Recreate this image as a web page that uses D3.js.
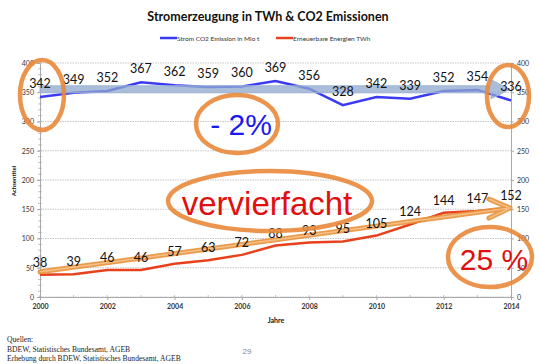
<!DOCTYPE html>
<html><head><meta charset="utf-8">
<script src="https://cdn.jsdelivr.net/npm/d3@7"></script>
<style>body{margin:0;background:#fff}svg{display:block}</style>
</head><body>
<script>
const years = [2000,2001,2002,2003,2004,2005,2006,2007,2008,2009,2010,2011,2012,2013,2014];
const co2 = [342,349,352,367,362,359,360,369,356,328,342,339,352,354,336];
const renew = [38,39,46,46,57,63,72,88,93,95,105,124,144,147,152];
const yTicks = [0,50,100,150,200,250,300,350,400];
const xTicks = [2000,2002,2004,2006,2008,2010,2012,2014];
const seriesNames = ["Strom CO2 Emission in Mio t","Erneuerbare Energien TWh"];
const trendCo2 = [355,355];
const trendRenew = [43,152];

const W=540,H=364;
const svg=d3.select("body").append("svg").attr("width",W).attr("height",H);
const x=d3.scaleLinear().domain([2000,2014]).range([40,511]);
const y=d3.scaleLinear().domain([0,400]).range([297,63]);

// title
svg.append("text").attr("x",268).attr("y",21).attr("text-anchor","middle")
  .attr("font-family","Lato").attr("font-weight","bold").attr("font-size",12.5).attr("fill","#111")
  .text("Stromerzeugung in TWh & CO2 Emissionen");
// legend
const lg=[{c:"#3a3af5",x:160},{c:"#e8401c",x:276}];
lg.forEach((d,i)=>{
  svg.append("line").attr("x1",d.x).attr("x2",d.x+17).attr("y1",38).attr("y2",38).attr("stroke",d.c).attr("stroke-width",2.5);
  svg.append("text").attr("x",d.x+17).attr("y",40.5).attr("font-family","Lato").attr("font-size",6.5).attr("fill","#333").text(seriesNames[i]);
});

// gridlines
svg.append("g").selectAll("line").data(yTicks).join("line")
  .attr("x1",40).attr("x2",511).attr("y1",d=>y(d)).attr("y2",d=>y(d))
  .attr("stroke","#b8b8b8").attr("stroke-width",0.8).attr("stroke-dasharray","1.5,1");
// axes
const yl=svg.append("g").attr("transform","translate(40,0)").call(d3.axisLeft(y).tickValues(yTicks).tickSize(3));
const yr=svg.append("g").attr("transform","translate(511,0)").call(d3.axisRight(y).tickValues(yTicks).tickSize(3));
const xa=svg.append("g").attr("transform","translate(0,297)").call(d3.axisBottom(x).tickValues(xTicks).tickFormat(d3.format("d")).tickSize(3));
[yl,yr,xa].forEach(g=>{
  g.select(".domain").attr("stroke","#aaa");
  g.selectAll(".tick line").attr("stroke","#aaa");
  g.selectAll("text").attr("font-family","Lato").attr("font-size",7).attr("fill","#333");
});
xa.selectAll("text").attr("font-weight","bold").attr("dy","0.9em");
// minor ticks on left axis
svg.append("g").selectAll("line").data(d3.range(0,401,10)).join("line")
  .attr("x1",38).attr("x2",42).attr("y1",d=>y(d)).attr("y2",d=>y(d)).attr("stroke","#aaa").attr("stroke-width",0.7);
svg.append("g").selectAll("line").data(years).join("line")
  .attr("x1",d=>x(d)).attr("x2",d=>x(d)).attr("y1",295).attr("y2",297).attr("stroke","#aaa").attr("stroke-width",0.7);

// axis titles
svg.append("text").attr("transform","translate(16,181) rotate(-90)").attr("text-anchor","middle")
  .attr("font-family","Lato").attr("font-weight","bold").attr("font-size",6).attr("fill","#111").text("Achsentitel");
svg.append("text").attr("x",276).attr("y",323).attr("text-anchor","middle")
  .attr("font-family","Lato").attr("font-weight","bold").attr("font-size",7).attr("fill","#111").text("Jahre");

// data lines
const line=d3.line().x((d,i)=>x(years[i])).y(d=>y(d));
svg.append("path").datum(co2).attr("d",line).attr("fill","none").attr("stroke","#3a3af5").attr("stroke-width",2.5);
svg.append("path").datum(renew).attr("d",line).attr("fill","none").attr("stroke","#e8401c").attr("stroke-width",2.5);

// grey-blue trend arrow
const ax0=x(2000), ax1=x(2014)-1, ay=y(trendCo2[0]);
svg.append("path").attr("d",`M${ax0},${ay-3.5}L${ax1-19},${ay-3.5}L${ax1-19},${ay-9.5}L${ax1},${ay}L${ax1-19},${ay+9.5}L${ax1-19},${ay+3.5}L${ax0},${ay+3.5}Z`)
  .attr("fill","#8ea8cd").attr("fill-opacity",0.75).attr("stroke","#9fb5d6").attr("stroke-width",1);

// orange trend arrow
const ox0=x(2000), oy0=y(trendRenew[0]), ox1=x(2014)-1, oy1=y(trendRenew[1]);
const arrowD=`M${ox0},${oy0}L${ox1},${oy1}M${ox1-21},${oy1-9}L${ox1},${oy1}L${ox1-21},${oy1+10}`;
svg.append("path").attr("d",arrowD).attr("fill","none").attr("stroke","#e8913a").attr("stroke-width",5).attr("stroke-linecap","round").attr("stroke-linejoin","round").attr("opacity",0.9);
svg.append("path").attr("d",arrowD).attr("fill","none").attr("stroke","#f6c48e").attr("stroke-width",1.5).attr("opacity",0.9);

// data labels
const lblF=(g,data)=>g.selectAll("text").data(data).join("text")
  .attr("x",(d,i)=>x(years[i])).attr("text-anchor","middle")
  .attr("font-family","Lato").attr("font-size",12.5).attr("fill","#111").text(d=>d);
lblF(svg.append("g"),co2).attr("y",d=>y(d)-9);
lblF(svg.append("g"),renew).attr("y",d=>y(d)-8);

// ellipses
const ells=[{cx:42,cy:95,rx:22,ry:35},{cx:508,cy:96,rx:21,ry:31},{cx:237,cy:124,rx:41,ry:29},{cx:270,cy:201,rx:102,ry:30},{cx:490,cy:257,rx:42,ry:30}];
svg.append("g").selectAll("ellipse").data(ells).join("ellipse")
  .attr("cx",d=>d.cx).attr("cy",d=>d.cy).attr("rx",d=>d.rx).attr("ry",d=>d.ry)
  .attr("fill","none").attr("stroke","#e8883a").attr("stroke-width",4.5).attr("opacity",0.9);

// annotation texts
svg.append("text").attr("x",241).attr("y",135).attr("text-anchor","middle").attr("font-family","Liberation Sans").attr("font-size",30).attr("fill","#1a1af0").text("- 2%");
svg.append("text").attr("x",267).attr("y",215).attr("text-anchor","middle").attr("font-family","Liberation Sans").attr("font-size",33).attr("fill","#e01010").text("vervierfacht");
svg.append("text").attr("x",494).attr("y",270).attr("text-anchor","middle").attr("font-family","Liberation Sans").attr("font-size",30).attr("fill","#e01010").text("25 %");

// sources
const src=["Quellen:","BDEW, Statistisches Bundesamt, AGEB","Erhebung durch BDEW, Statistisches Bundesamt, AGEB"];
svg.append("g").selectAll("text").data(src).join("text").attr("x",7).attr("y",(d,i)=>342+i*9.7)
  .attr("font-family","Liberation Serif").attr("font-size",7.6).attr("fill","#222").text(d=>d);
svg.append("text").attr("x",247).attr("y",354).attr("text-anchor","middle").attr("font-family","Liberation Sans").attr("font-size",8).attr("fill","#888").text("29");
</script>
</body></html>
